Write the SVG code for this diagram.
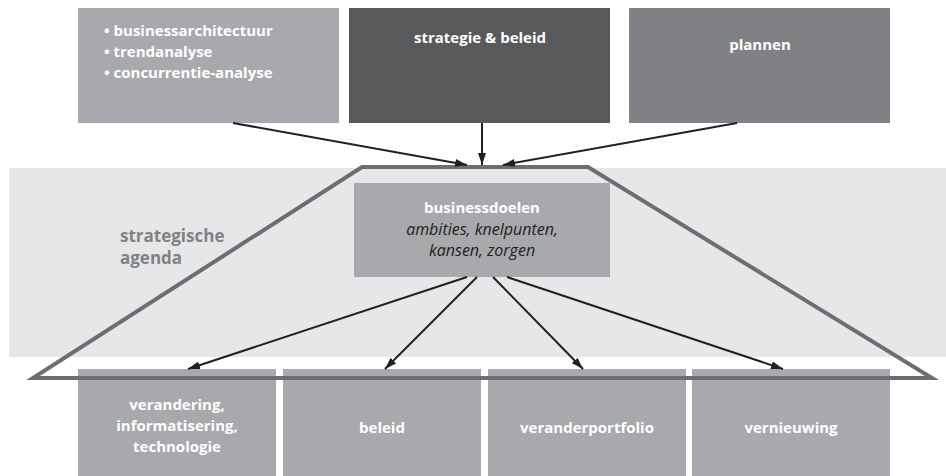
<svg xmlns="http://www.w3.org/2000/svg" width="946" height="476" viewBox="0 0 946 476">
<defs>
<marker id="ah" viewBox="0 0 12 8" refX="12" refY="4" markerWidth="12" markerHeight="8" markerUnits="userSpaceOnUse" orient="auto">
<path d="M0,0 L12,4 L0,8 Z" fill="#231f20"/>
</marker>
<style>
.t{font-family:"Open Sans","Liberation Sans",sans-serif;font-weight:700;font-size:15px;fill:#ffffff}
.c{text-anchor:middle}
.i{font-style:italic;font-weight:400;font-size:16px;fill:#231f20}
.lbl{font-family:"Open Sans","Liberation Sans",sans-serif;font-weight:700;font-size:17px;fill:#808285}
.mid{fill:#a7a9ac}
.conn{stroke:#231f20;stroke-width:2;fill:none;marker-end:url(#ah)}
</style>
</defs>
<rect width="946" height="476" fill="#ffffff"/>
<rect id="band" x="9" y="168" width="937" height="189" fill="#e6e7e8"/>
<g id="label-agenda">
<text class="lbl" x="120" y="242">strategische</text>
<text class="lbl" x="120" y="264">agenda</text>
</g>
<g id="box-analyse">
<rect x="78" y="8" width="261" height="115" class="mid"/>
<text class="t" x="104" y="36">• businessarchitectuur</text>
<text class="t" x="104" y="57">• trendanalyse</text>
<text class="t" x="104" y="78">• concurrentie-analyse</text>
</g>
<g id="box-strategie">
<rect x="349" y="8" width="261" height="115" fill="#58595b"/>
<text class="t c" x="480" y="43">strategie &amp; beleid</text>
</g>
<g id="box-plannen">
<rect x="629" y="8" width="261" height="115" fill="#808184"/>
<text class="t c" x="760" y="50">plannen</text>
</g>
<g id="box-doelen">
<rect x="354" y="183" width="256" height="94" class="mid"/>
<text class="t c" x="482" y="213">businessdoelen</text>
<text class="t c i" x="482" y="235">ambities, knelpunten,</text>
<text class="t c i" x="482" y="256">kansen, zorgen</text>
</g>
<g id="box-verandering">
<rect x="78" y="369" width="198" height="107" class="mid"/>
<text class="t c" x="177" y="410">verandering,</text>
<text class="t c" x="177" y="431">informatisering,</text>
<text class="t c" x="177" y="452">technologie</text>
</g>
<g id="box-beleid">
<rect x="283" y="369" width="198" height="107" class="mid"/>
<text class="t c" x="382" y="433">beleid</text>
</g>
<g id="box-veranderportfolio">
<rect x="488" y="369" width="198" height="107" class="mid"/>
<text class="t c" x="587" y="433">veranderportfolio</text>
</g>
<g id="box-vernieuwing">
<rect x="692" y="369" width="198" height="107" class="mid"/>
<text class="t c" x="791" y="433">vernieuwing</text>
</g>
<g id="trapezium">
<path d="M362,167 L588,167 L932,378 L33,378 Z" fill="none" stroke="#6d6e71" stroke-width="4" stroke-linejoin="miter"/>
</g>
<g id="connectors">
<line class="conn" x1="233" y1="123" x2="467" y2="165"/>
<line class="conn" x1="482" y1="123" x2="482" y2="165"/>
<line class="conn" x1="737" y1="123" x2="503" y2="165"/>
<line class="conn" x1="467" y1="277" x2="188" y2="369"/>
<line class="conn" x1="477" y1="277" x2="385" y2="369"/>
<line class="conn" x1="493" y1="277" x2="583" y2="369"/>
<line class="conn" x1="507" y1="277" x2="783" y2="369"/>
</g>
</svg>
